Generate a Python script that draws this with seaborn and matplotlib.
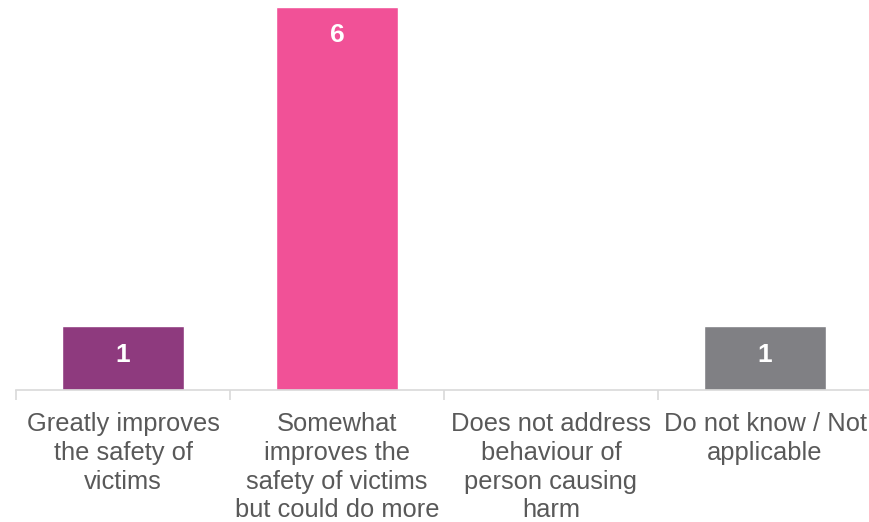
import matplotlib
matplotlib.use("Agg")
import matplotlib.pyplot as plt
import seaborn as sns
import pandas as pd
import numpy as np

categories = [
    "Greatly improves\nthe safety of\nvictims",
    "Somewhat\nimproves the\nsafety of victims\nbut could do more",
    "Does not address\nbehaviour of\nperson causing\nharm",
    "Do not know / Not\napplicable",
]
counts = [1, 6, 0, 1]
bar_colors = ["#8E3A7E", "#F15197", "#BFBFBF", "#808084"]

sns.set_theme(style="white")
plt.rcParams["font.family"] = ["Liberation Sans", "DejaVu Sans"]

df = pd.DataFrame({"category": categories, "count": counts})

fig = plt.figure(figsize=(8.69, 5.22), dpi=100)
ax = fig.add_axes([16 / 869, 1 - 390 / 522, 856 / 869, 383 / 522])

sns.barplot(data=df, x="category", y="count", hue="category",
            palette=bar_colors, width=0.57, saturation=1, legend=False, ax=ax)

ax.set_xlim(-0.5, 3.5)
ax.set_ylim(0, 6)

for i, v in enumerate(counts):
    if v > 0:
        ax.annotate(str(v), xy=(i, v), xytext=(0, -20.5), textcoords="offset points",
                    ha="center", va="center", color="white",
                    fontsize=19, fontweight="bold")

for s in ["top", "right", "left"]:
    ax.spines[s].set_visible(False)
ax.spines["bottom"].set_color("#D9D9D9")
ax.spines["bottom"].set_linewidth(1.2)

ax.set_yticks([])
ax.set_xlabel("")
ax.set_ylabel("")
ax.set_xticks(range(len(categories)))
ax.set_xticklabels(categories, fontsize=18.4, color="#595959", linespacing=1.25)
ax.tick_params(axis="x", which="major", length=0, pad=16)
ax.set_xticks(np.arange(-0.5, len(categories), 1.0), minor=True)
ax.tick_params(axis="x", which="minor", length=7, width=1.2, color="#D9D9D9",
               direction="out", bottom=True)

fig.savefig("out.png", dpi=100)
